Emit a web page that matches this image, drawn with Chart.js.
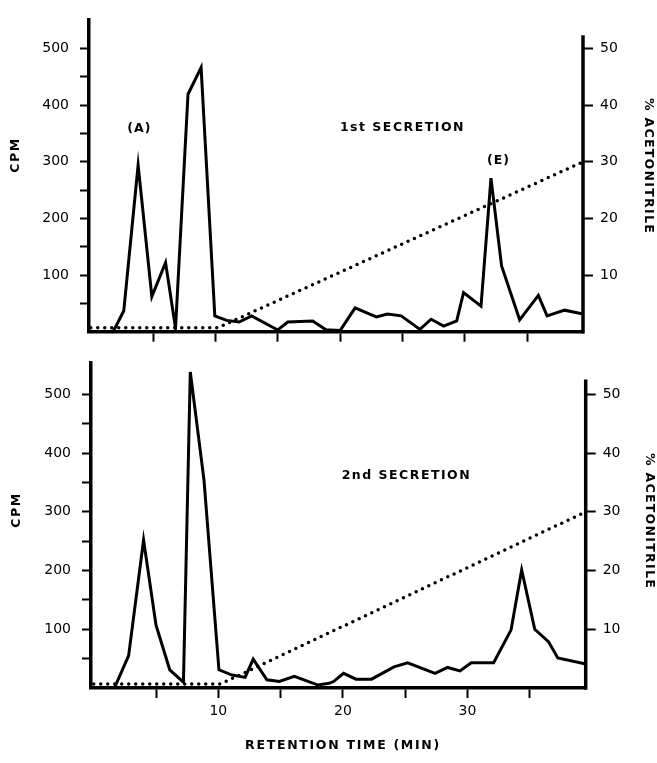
<!DOCTYPE html>
<html>
<head>
<meta charset="utf-8">
<script src="https://cdn.jsdelivr.net/npm/chart.js@4/dist/chart.umd.min.js"></script>
<style>
html,body{margin:0;padding:0;background:#fff;}
#wrap{position:relative;width:657px;height:763px;}
canvas{position:absolute;left:0;top:0;}
</style>
</head>
<body>
<div id="wrap">
<canvas id="c1" width="657" height="763"></canvas>
<canvas id="c2" width="657" height="763"></canvas>
</div>
<script>
// ---- Data: 1st secretion ----
const time1 = [1.8, 2.65, 3.8, 4.9, 6.0, 6.8, 7.8, 8.85, 9.95, 10.9, 11.9, 12.9, 15.0, 15.8, 17.8, 18.9, 19.2, 20.0, 21.2, 22.9, 23.8, 24.9, 26.4, 27.3, 28.3, 29.35, 29.9, 31.3, 32.1, 32.95, 34.4, 35.9, 36.6, 38.0, 39.5];
const cpm1  = [0, 37, 294, 62, 122, 6, 419, 466, 28, 20, 17, 28, 3, 17, 19, 3, 3, 2, 42, 26, 31, 28, 4, 22, 10, 19, 69, 45, 271, 116, 21, 64, 28, 38, 31];

// ---- Data: 2nd secretion ----
const time2 = [1.7, 2.8, 4.0, 5.0, 6.1, 7.2, 7.75, 8.85, 10.05, 11.1, 12.15, 12.8, 13.9, 14.9, 16.1, 18.0, 18.9, 19.25, 20.05, 21.05, 22.3, 24.1, 25.2, 27.4, 28.4, 29.4, 30.3, 32.1, 33.5, 34.35, 35.4, 36.5, 37.25, 39.5];
const cpm2  = [2, 55, 252, 107, 31, 10, 538, 354, 31, 22, 18, 49, 14, 11, 20, 5, 8, 11, 25, 15, 15, 36, 43, 25, 35, 29, 43, 43, 99, 201, 100, 79, 51, 41];

// ---- Acetonitrile gradient (%), same for both runs ----
const gradTime = [0, 10.2, 39.5];
const gradPct  = [0.7, 0.7, 30];

// ---- Tick values ----
const xTicks = [5, 10, 15, 20, 25, 30, 35];
const xTickLabels = [10, 20, 30];
const cpmTicks = [50, 100, 150, 200, 250, 300, 350, 400, 450, 500];
const cpmTickLabels = [100, 200, 300, 400, 500];
const pctTicks = [10, 20, 30, 40, 50];

const FONT = '"DejaVu Sans", sans-serif';

const textPlugin = {
  id: 'texts',
  afterDraw(chart, args, opts) {
    const ctx = chart.ctx;
    const xs = chart.scales.x, ys = chart.scales.y;
    (opts.items || []).forEach(it => {
      ctx.save();
      ctx.font = it.font;
      ctx.fillStyle = '#000';
      ctx.textAlign = 'center';
      ctx.textBaseline = 'middle';
      if ('letterSpacing' in ctx) ctx.letterSpacing = it.ls || '0px';
      let px = it.px, py = it.py;
      if (it.tx !== undefined) px = xs.getPixelForValue(it.tx);
      if (it.cy !== undefined) py = ys.getPixelForValue(it.cy);
      ctx.translate(px, py);
      ctx.rotate(it.rot || 0);
      ctx.fillText(it.text, 0, 0);
      ctx.restore();
    });
    // right axis line up to a given value
    const y2 = chart.scales.y2;
    ctx.save();
    ctx.strokeStyle = '#000';
    ctx.lineWidth = 3.5;
    ctx.beginPath();
    ctx.moveTo(chart.chartArea.right, y2.getPixelForValue(0) + 1.75);
    ctx.lineTo(chart.chartArea.right, y2.getPixelForValue(opts.rightTop));
    ctx.stroke();
    ctx.restore();
  }
};

function makeChart(id, times, cpm, g) {
  const pts = times.map((t, i) => ({x: t, y: cpm[i]}));
  const grad = gradTime.map((t, i) => ({x: t, y: gradPct[i]}));
  return new Chart(document.getElementById(id), {
    type: 'line',
    data: {
      datasets: [
        {data: pts, yAxisID: 'y', borderColor: '#000', borderWidth: 3, pointRadius: 0, tension: 0, borderJoinStyle: 'miter', fill: false},
        {data: grad, yAxisID: 'y2', borderColor: '#000', borderWidth: 3.5, pointRadius: 0, tension: 0, borderDash: [0, 7], borderCapStyle: 'round', fill: false}
      ]
    },
    options: {
      responsive: false,
      animation: false,
      layout: {padding: {top: g.top, left: 0, right: 0, bottom: 0}},
      plugins: {legend: {display: false}, tooltip: {enabled: false}, texts: {items: g.texts, rightTop: g.rightTop}},
      scales: {
        x: {
          type: 'linear', position: 'bottom', min: g.xmin, max: g.xmax,
          afterBuildTicks: s => { s.ticks = xTicks.map(v => ({value: v})); },
          afterFit: s => { s.height = g.xh; },
          ticks: {autoSkip: false, maxRotation: 0, padding: 5, color: '#000', font: {family: FONT, size: 14},
                  callback: v => (g.xLabels && xTickLabels.includes(v)) ? String(v) : ''},
          grid: {drawOnChartArea: false, drawTicks: true, tickLength: 10, tickWidth: 2, tickColor: '#000'},
          border: {display: true, color: '#000', width: 3.5}
        },
        y: {
          type: 'linear', position: 'left', min: 0, max: g.ymax,
          afterBuildTicks: s => { s.ticks = cpmTicks.map(v => ({value: v})); },
          afterFit: s => { s.width = g.lw; },
          ticks: {autoSkip: false, padding: 11, color: '#000', font: {family: FONT, size: 14},
                  callback: v => cpmTickLabels.includes(v) ? String(v) : ''},
          grid: {drawOnChartArea: false, drawTicks: true, tickLength: 9, tickWidth: 2, tickColor: '#000'},
          border: {display: true, color: '#000', width: 3.5}
        },
        y2: {
          type: 'linear', position: 'right', min: 0, max: g.ymax / 10,
          afterBuildTicks: s => { s.ticks = pctTicks.map(v => ({value: v})); },
          afterFit: s => { s.width = g.rw; },
          ticks: {autoSkip: false, padding: 7, color: '#000', font: {family: FONT, size: 14}},
          grid: {drawOnChartArea: false, drawTicks: true, tickLength: 10, tickWidth: 2, tickColor: '#000'},
          border: {display: false}
        }
      }
    },
    plugins: [textPlugin]
  });
}

const BOLD = 'bold 12.5px ' + FONT;

makeChart('c1', time1, cpm1, {
  top: 8, xh: 763 - 331.7, lw: 89, rw: 74, ymax: 551.1, xmin: -0.14, xmax: 39.48, xLabels: false, rightTop: 52.3,
  texts: [
    {text: '(A)', tx: 3.9, cy: 358, font: BOLD, ls: '1px'},
    {text: '(E)', tx: 32.7, cy: 301, font: BOLD, ls: '1px'},
    {text: '1st SECRETION', tx: 25, cy: 360, font: BOLD, ls: '1.5px'},
    {text: 'CPM', px: 16, py: 155, rot: -Math.PI / 2, font: BOLD, ls: '1.5px'},
    {text: '% ACETONITRILE', px: 648, py: 166, rot: Math.PI / 2, font: BOLD, ls: '1.3px'}
  ]
});

makeChart('c2', time2, cpm2, {
  top: 363, xh: 75, lw: 91, rw: 657 - 585.7, ymax: 553.3, xmin: -0.22, xmax: 39.49, xLabels: true, rightTop: 52.5,
  texts: [
    {text: '2nd SECRETION', tx: 25.1, cy: 361, font: BOLD, ls: '1.5px'},
    {text: 'CPM', px: 17, py: 510, rot: -Math.PI / 2, font: BOLD, ls: '1.5px'},
    {text: '% ACETONITRILE', px: 649, py: 521, rot: Math.PI / 2, font: BOLD, ls: '1.3px'},
    {text: 'RETENTION TIME (MIN)', px: 343, py: 746, font: BOLD, ls: '1.7px'}
  ]
});
</script>
</body>
</html>
